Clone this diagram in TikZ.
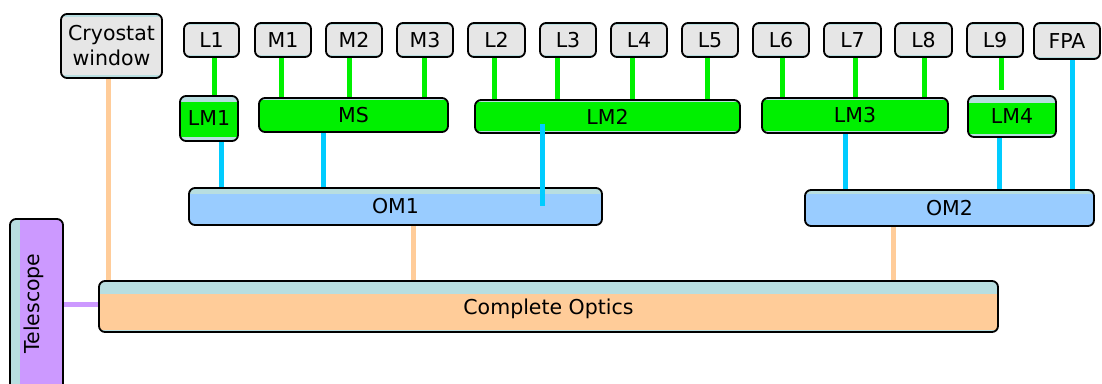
\documentclass[tikz,border=0pt]{standalone}
\usepackage{fontspec}
\setmainfont{DejaVu Sans}
\usetikzlibrary{backgrounds}

\definecolor{strip}{HTML}{B8DEE0}
\definecolor{greybox}{HTML}{E6E6E6}
\definecolor{greenbox}{HTML}{00F000}
\definecolor{bluebox}{HTML}{99CCFF}
\definecolor{orangebox}{HTML}{FFCC99}
\definecolor{purplebox}{HTML}{CC99FF}
\definecolor{cyanline}{HTML}{00CCFF}

\tikzset{
  txt/.style={font=\fontsize{20.5}{24}\selectfont},
  blk/.style={draw=black, line width=1.8pt, rounded corners=6pt, fill=strip,
    inner sep=0pt, txt, align=center},
  % coloured face inside the strip: #1 colour, #2 top strip, #3 bottom strip
  face/.style n args={3}{path picture={
    \fill[#1, sharp corners] ([shift={(1.2pt,-#2)}]path picture bounding box.north west)
      rectangle ([shift={(-1.2pt,#3)}]path picture bounding box.south east);}},
  faceleft/.style 2 args={path picture={
    \fill[#1, sharp corners] ([shift={(#2,-1.2pt)}]path picture bounding box.north west)
      rectangle ([shift={(-1.2pt,1.2pt)}]path picture bounding box.south east);}},
  small/.style={blk, face={greybox}{2pt}{2pt}, minimum height=34pt},
  wire/.style={line width=5pt},
  gl/.style={wire, draw=greenbox},
  cy/.style={wire, draw=cyanline},
  og/.style={wire, draw=orangebox},
  pu/.style={wire, draw=purplebox},
}

\begin{document}
\begin{tikzpicture}[x=1pt, y=-1pt]
\useasboundingbox (0,0) rectangle (1102,383);

% top row
\node[blk, face={greybox}{3pt}{3pt}, minimum width=101pt, minimum height=64pt]
  (cryo) at (111.5,46) {Cryostat\\[1pt]window};
\node[small, minimum width=55pt] (L1) at (211.5,40) {L1};
\node[small, minimum width=56pt] (M1) at (283,40) {M1};
\node[small, minimum width=56pt] (M2) at (354,40) {M2};
\node[small, minimum width=56pt] (M3) at (425,40) {M3};
\node[small, minimum width=57pt] (L2) at (496.5,40) {L2};
\node[small, minimum width=56pt] (L3) at (568,40) {L3};
\node[small, minimum width=56pt] (L4) at (639,40) {L4};
\node[small, minimum width=56pt] (L5) at (710,40) {L5};
\node[small, minimum width=56pt] (L6) at (781,40) {L6};
\node[small, minimum width=57pt] (L7) at (852.5,40) {L7};
\node[small, minimum width=57pt] (L8) at (923.5,40) {L8};
\node[small, minimum width=56pt] (L9) at (995,40) {L9};
\node[small, minimum width=66pt, minimum height=36pt] (FPA) at (1067,41) {FPA};

% modules
\node[blk, face={greenbox}{6pt}{4pt}, minimum width=58pt, minimum height=45pt]
  (LM1) at (209,118.5) {LM1};
\node[blk, face={greenbox}{1.5pt}{1.5pt}, minimum width=189pt, minimum height=34pt]
  (MS) at (353.5,115) {MS};
\node[blk, face={greenbox}{1.5pt}{2pt}, minimum width=265pt, minimum height=33pt]
  (LM2) at (607.5,116.5) {LM2};
\node[blk, face={greenbox}{1.5pt}{2pt}, minimum width=186pt, minimum height=35pt]
  (LM3) at (855,115.5) {LM3};
\node[blk, face={greenbox}{7pt}{3pt}, minimum width=88pt, minimum height=41pt]
  (LM4) at (1012,116.5) {LM4};

% optical modules
\node[blk, face={bluebox}{5.5pt}{1.2pt}, minimum width=413pt, minimum height=37pt]
  (OM1) at (395.5,206.5) {OM1};
\node[blk, face={bluebox}{4pt}{1.2pt}, minimum width=289pt, minimum height=36pt]
  (OM2) at (949.5,208) {OM2};

% complete assembly
\node[blk, face={orangebox}{13pt}{2pt}, minimum width=899pt, minimum height=51pt,
  text depth=0pt] (CO) at (548.5,306.5) {Complete Optics};

% telescope
\node[blk, faceleft={purplebox}{10pt}, minimum width=53pt, minimum height=201pt]
  (tel) at (36.5,319.5) {};
\node[txt, rotate=90, inner sep=0pt]
  (tellabel) at (34,303.5) {Telescope};

% connectors behind the boxes
\begin{scope}[on background layer]
  \draw[og] (108,0 |- cryo.south) -- (108,0 |- CO.north);
  \draw[gl] (214,0 |- L1.south) -- (214,0 |- LM1.north);
  \draw[gl] (281,0 |- M1.south) -- (281,0 |- MS.north);
  \draw[gl] (349,0 |- M2.south) -- (349,0 |- MS.north);
  \draw[gl] (424,0 |- M3.south) -- (424,0 |- MS.north);
  \draw[gl] (494,0 |- L2.south) -- (494,0 |- LM2.north);
  \draw[gl] (557,0 |- L3.south) -- (557,0 |- LM2.north);
  \draw[gl] (632,0 |- L4.south) -- (632,0 |- LM2.north);
  \draw[gl] (707,0 |- L5.south) -- (707,0 |- LM2.north);
  \draw[gl] (782,0 |- L6.south) -- (782,0 |- LM3.north);
  \draw[gl] (855,0 |- L7.south) -- (855,0 |- LM3.north);
  \draw[gl] (924,0 |- L8.south) -- (924,0 |- LM3.north);
  \draw[gl] (1001,0 |- L9.south) -- ([yshift=5pt]1001,0 |- LM4.north);
  \draw[cy] (221,0 |- LM1.south) -- (221,0 |- OM1.north);
  \draw[cy] (323,0 |- MS.south) -- (323,0 |- OM1.north);
  \draw[cy] (845,0 |- LM3.south) -- (845,0 |- OM2.north);
  \draw[cy] (999,0 |- LM4.south) -- (999,0 |- OM2.north);
  \draw[cy] (1072,0 |- FPA.south) -- (1072,0 |- OM2.north);
  \draw[og] (413,0 |- OM1.south) -- (413,0 |- CO.north);
  \draw[og] (893,0 |- OM2.south) -- (893,0 |- CO.north);
  \draw[pu] (tel.east |- 0,304) -- (CO.west |- 0,304);
\end{scope}

% this one runs over both boxes
\draw[cy] ([yshift=10pt]542,0 |- LM2.south) -- ([yshift=-19pt]542,0 |- OM1.north);
\end{tikzpicture}
\end{document}
